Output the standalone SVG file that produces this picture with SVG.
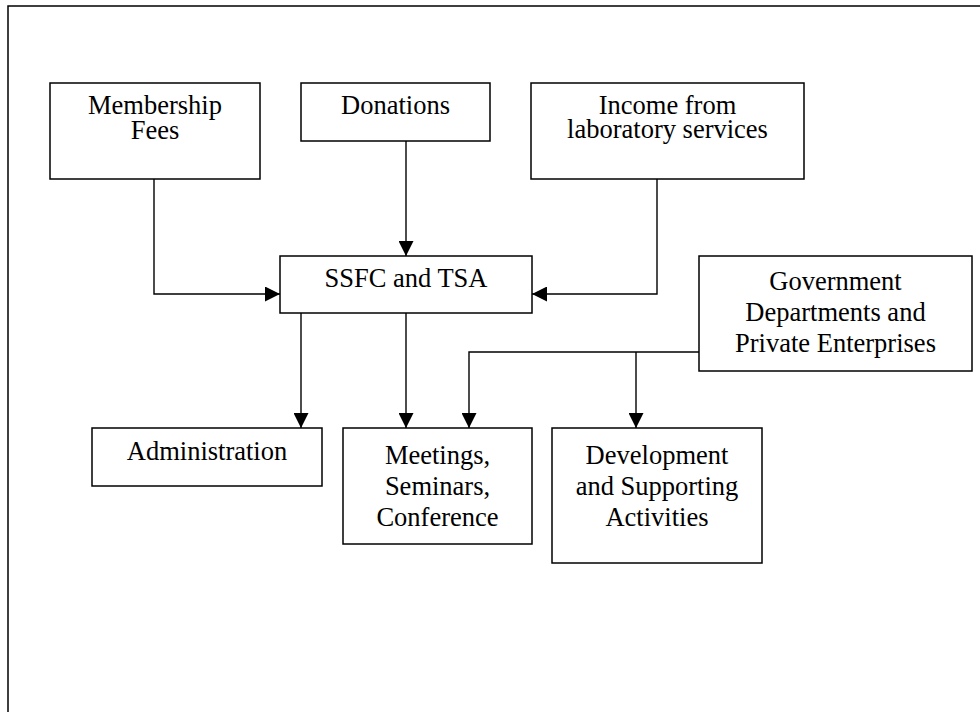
<svg xmlns="http://www.w3.org/2000/svg" width="980" height="712" viewBox="0 0 980 712">
<style>
.box{fill:#fff;stroke:#000;stroke-width:1.5}
.t{font-family:"Liberation Serif","Times New Roman",serif;font-size:26.5px;fill:#000;text-anchor:middle}
.c{fill:none;stroke:#000;stroke-width:1.4}
</style>
<defs>
<marker id="ah" markerWidth="15" markerHeight="15" viewBox="0 0 15 15" refX="15" refY="7.5" orient="auto" markerUnits="userSpaceOnUse">
<path d="M0,0 L15,7.5 L0,15 Z" fill="#000"/>
</marker>
</defs>
<rect x="0" y="0" width="980" height="712" fill="#fff"/>
<rect x="8" y="6" width="990" height="720" fill="none" stroke="#000" stroke-width="1.5"/>
<g id="connectors">
<path class="c" d="M154,179 V294 H280" marker-end="url(#ah)"/>
<path class="c" d="M406,141 V256" marker-end="url(#ah)"/>
<path class="c" d="M657,179 V294 H532" marker-end="url(#ah)"/>
<path class="c" d="M301,313 V428" marker-end="url(#ah)"/>
<path class="c" d="M406,313 V428" marker-end="url(#ah)"/>
<path class="c" d="M699,352 H469 V428" marker-end="url(#ah)"/>
<path class="c" d="M636,352 V428" marker-end="url(#ah)"/>
</g>
<g id="membership">
<rect class="box" x="50" y="83" width="210" height="96"/>
<text class="t" x="155" y="114">Membership</text>
<text class="t" x="155" y="139">Fees</text>
</g>
<g id="donations">
<rect class="box" x="301" y="83" width="189" height="58"/>
<text class="t" x="395.5" y="114">Donations</text>
</g>
<g id="income">
<rect class="box" x="531" y="83" width="273" height="96"/>
<text class="t" x="667.5" y="114">Income from</text>
<text class="t" x="667.5" y="138">laboratory services</text>
</g>
<g id="ssfc">
<rect class="box" x="280" y="256" width="252" height="57"/>
<text class="t" x="406" y="287">SSFC and TSA</text>
</g>
<g id="government">
<rect class="box" x="699" y="256" width="273" height="115"/>
<text class="t" x="835.5" y="290">Government</text>
<text class="t" x="835.5" y="321">Departments and</text>
<text class="t" x="835.5" y="352">Private Enterprises</text>
</g>
<g id="administration">
<rect class="box" x="92" y="428" width="230" height="58"/>
<text class="t" x="207" y="460">Administration</text>
</g>
<g id="meetings">
<rect class="box" x="343" y="428" width="189" height="116"/>
<text class="t" x="437.5" y="464">Meetings,</text>
<text class="t" x="437.5" y="495">Seminars,</text>
<text class="t" x="437.5" y="526">Conference</text>
</g>
<g id="development">
<rect class="box" x="552" y="428" width="210" height="135"/>
<text class="t" x="657" y="464">Development</text>
<text class="t" x="657" y="495">and Supporting</text>
<text class="t" x="657" y="526">Activities</text>
</g>
</svg>
